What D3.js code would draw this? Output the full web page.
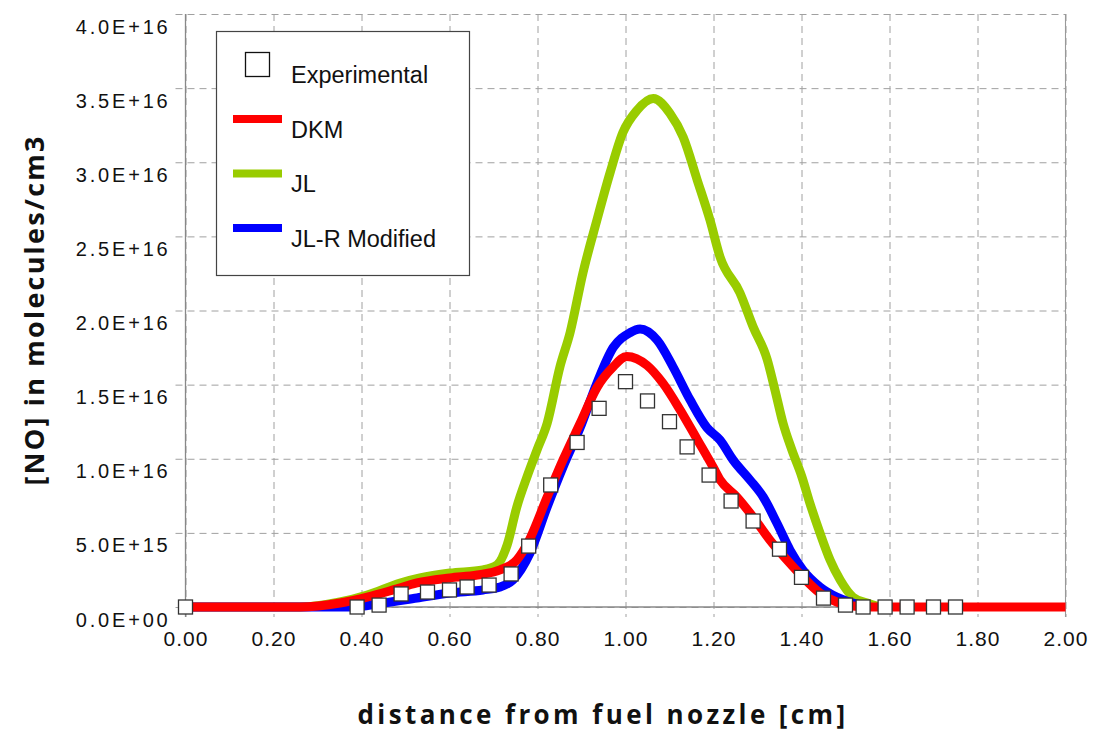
<!DOCTYPE html>
<html>
<head>
<meta charset="utf-8">
<script src="https://cdn.jsdelivr.net/npm/d3@7"></script>
<style>
  body { margin: 0; background: #fff; }
  svg { display: block; }
</style>
</head>
<body>
<div id="chart"></div>
<script>
// x in cm, y in molecules/cm3
var xTickLabels = ["0.00", "0.20", "0.40", "0.60", "0.80", "1.00", "1.20", "1.40", "1.60", "1.80", "2.00"];
var yTickLabels = ["0.0E+00", "5.0E+15", "1.0E+16", "1.5E+16", "2.0E+16", "2.5E+16", "3.0E+16", "3.5E+16", "4.0E+16"];

var expX = [0.00, 0.39, 0.44, 0.49, 0.55, 0.60, 0.64, 0.69, 0.74, 0.78, 0.83, 0.89, 0.94, 1.00, 1.05, 1.10, 1.14, 1.19, 1.24, 1.29, 1.35, 1.40, 1.45, 1.50, 1.54, 1.59, 1.64, 1.70, 1.75];
var expY = [0, 0, 0.13e15, 0.88e15, 1.01e15, 1.15e15, 1.35e15, 1.48e15, 2.23e15, 4.11e15, 8.23e15, 11.1e15, 13.4e15, 15.2e15, 13.9e15, 12.5e15, 10.8e15, 8.9e15, 7.15e15, 5.8e15, 3.9e15, 2.0e15, 0.6e15, 0.13e15, 0, 0, 0, 0, 0];

var dkmX = [0, 0.26, 0.351, 0.413, 0.472, 0.526, 0.601, 0.663, 0.715, 0.753, 0.778, 0.822, 0.858, 0.897, 0.935, 0.972, 1.003, 1.049, 1.085, 1.124, 1.163, 1.199, 1.215, 1.253, 1.290, 1.328, 1.367, 1.403, 1.442, 1.480, 1.517, 1.555, 2.0];
var dkmY = [0, 0, 0.27e15, 0.67e15, 1.15e15, 1.62e15, 1.96e15, 2.16e15, 2.50e15, 3.17e15, 4.32e15, 7.42e15, 9.92e15, 12.4e15, 14.8e15, 16.2e15, 16.9e15, 16.3e15, 15.1e15, 13.3e15, 11.3e15, 9.44e15, 8.57e15, 7.42e15, 6.07e15, 4.52e15, 3.17e15, 2.02e15, 0.94e15, 0.34e15, 0.07e15, 0, 0];

var jlX = [0, 0.26, 0.351, 0.413, 0.488, 0.533, 0.601, 0.676, 0.708, 0.731, 0.753, 0.776, 0.799, 0.822, 0.851, 0.874, 0.903, 0.935, 0.965, 0.994, 1.026, 1.063, 1.101, 1.131, 1.163, 1.192, 1.215, 1.260, 1.290, 1.322, 1.340, 1.358, 1.378, 1.401, 1.419, 1.442, 1.465, 1.488, 1.517, 1.549, 1.578];
var jlY = [0, 0, 0.34e15, 0.81e15, 1.62e15, 1.96e15, 2.29e15, 2.50e15, 2.83e15, 4.18e15, 6.75e15, 8.77e15, 10.6e15, 12.4e15, 16.2e15, 18.5e15, 22.5e15, 26.1e15, 29.3e15, 32.0e15, 33.5e15, 34.3e15, 33.3e15, 31.7e15, 28.8e15, 26.1e15, 23.6e15, 21.2e15, 18.9e15, 16.7e15, 14.6e15, 12.4e15, 10.6e15, 8.77e15, 7.01e15, 4.99e15, 3.17e15, 1.82e15, 0.67e15, 0.27e15, 0];

var jlrX = [0, 0.26, 0.374, 0.449, 0.526, 0.601, 0.676, 0.715, 0.744, 0.783, 0.822, 0.858, 0.897, 0.935, 0.972, 1.010, 1.033, 1.072, 1.108, 1.147, 1.185, 1.215, 1.245, 1.283, 1.313, 1.344, 1.374, 1.403, 1.442, 1.480, 1.517, 1.555];
var jlrY = [0, 0, 0, 0.27e15, 0.61e15, 0.94e15, 1.15e15, 1.35e15, 1.82e15, 3.64e15, 6.75e15, 9.44e15, 12.1e15, 15.1e15, 17.5e15, 18.5e15, 18.75e15, 18.0e15, 16.2e15, 13.96e15, 12.1e15, 11.26e15, 9.9e15, 8.57e15, 7.42e15, 5.67e15, 3.84e15, 2.50e15, 1.35e15, 0.67e15, 0.27e15, 0];

var seriesNames = ["Experimental", "DKM", "JL", "JL-R Modified"];
var seriesColors = ["#ffffff", "#ff0000", "#99cc00", "#0000ff"];

var W = 1103, H = 734;
var x = d3.scaleLinear().domain([0, 2]).range([185.5, 1065.5]);
var y = d3.scaleLinear().domain([0, 4e16]).range([607, 14]);

var svg = d3.select("#chart").append("svg")
    .attr("width", W)
    .attr("height", H)
    .style("font-family", "'Liberation Sans', Arial, sans-serif");

function zip(xs, ys) {
    return xs.map(function(v, i){ return [v, ys[i]]; });
}

// grid
var yTickVals = yTickLabels.map(function(d){ return +d; });
var xTickVals = xTickLabels.map(function(d){ return +d; });

var yAxis = svg.append("g")
    .attr("transform", "translate(" + x(0) + ",0)")
    .call(d3.axisLeft(y)
        .tickValues(yTickVals)
        .tickSize(-(x(2) - x(0)) - 10)
        .tickSizeOuter(0)
        .tickFormat(function(d, i){ return yTickLabels[i]; }));
yAxis.select(".domain").remove();
yAxis.selectAll(".tick line")
    .attr("x1", -10)
    .attr("x2", x(2) - x(0))
    .attr("stroke", "#a0a0a0")
    .attr("stroke-dasharray", "7,5");
yAxis.selectAll(".tick text")
    .attr("x", -15)
    .attr("dy", "0.95em")
    .attr("fill", "#111")
    .style("font-size", "20px")
    .style("letter-spacing", "2.8px");

var xAxis = svg.append("g")
    .attr("transform", "translate(0," + y(0) + ")")
    .call(d3.axisBottom(x)
        .tickValues(xTickVals)
        .tickSize(10)
        .tickSizeOuter(0)
        .tickFormat(function(d, i){ return xTickLabels[i]; }));
xAxis.select(".domain").remove();
xAxis.selectAll(".tick line")
    .attr("y1", y(4e16) - y(0))
    .attr("y2", 10)
    .attr("stroke", "#a0a0a0")
    .attr("stroke-dasharray", "7,5");
xAxis.selectAll(".tick text")
    .attr("y", 39)
    .attr("dy", 0)
    .attr("fill", "#111")
    .style("font-size", "21px")
    .style("letter-spacing", "1px");

// axis lines
svg.append("line")
    .attr("x1", x(0)).attr("x2", x(0))
    .attr("y1", y(4e16)).attr("y2", y(0) + 10)
    .attr("stroke", "#888").attr("stroke-width", 1.3);
svg.append("line")
    .attr("x1", x(2)).attr("x2", x(2))
    .attr("y1", y(4e16)).attr("y2", y(0) + 10)
    .attr("stroke", "#999").attr("stroke-width", 1.1);
svg.append("line")
    .attr("x1", x(0)).attr("x2", x(2))
    .attr("y1", y(0)).attr("y2", y(0))
    .attr("stroke", "#888").attr("stroke-width", 1.3);

// curves
var line = d3.line()
    .x(function(d){ return x(d[0]); })
    .y(function(d){ return y(d[1]); })
    .curve(d3.curveMonotoneX);

var curves = [
    {data: zip(jlX, jlY), color: seriesColors[2]},
    {data: zip(jlrX, jlrY), color: seriesColors[3]},
    {data: zip(dkmX, dkmY), color: seriesColors[1]}
];
svg.append("g").selectAll("path")
    .data(curves)
    .enter()
    .append("path")
      .attr("d", function(d){ return line(d.data); })
      .attr("fill", "none")
      .attr("stroke", function(d){ return d.color; })
      .attr("stroke-width", 9)
      .attr("stroke-linejoin", "round");

// experimental markers
svg.append("g").selectAll("rect")
    .data(zip(expX, expY))
    .enter()
    .append("rect")
      .attr("x", function(d){ return x(d[0]) - 7; })
      .attr("y", function(d){ return y(d[1]) - 7; })
      .attr("width", 14)
      .attr("height", 14)
      .attr("fill", "#fff")
      .attr("stroke", "#333")
      .attr("stroke-width", 1.3);

// legend
var legend = svg.append("g");
legend.append("rect")
    .attr("x", 216.5).attr("y", 31.5)
    .attr("width", 253).attr("height", 244)
    .attr("fill", "#fff")
    .attr("stroke", "#444")
    .attr("stroke-width", 1.2);

var legendItems = legend.selectAll("g.item")
    .data(seriesNames)
    .enter()
    .append("g")
      .attr("class", "item")
      .attr("transform", function(d, i){ return "translate(0," + (i * 54.5) + ")"; });
legendItems.filter(function(d, i){ return i == 0; })
    .append("rect")
      .attr("x", 245.5).attr("y", 52.5)
      .attr("width", 24).attr("height", 24)
      .attr("fill", "#fff")
      .attr("stroke", "#111")
      .attr("stroke-width", 1.3);
legendItems.filter(function(d, i){ return i > 0; })
    .append("line")
      .attr("x1", 233).attr("x2", 282)
      .attr("y1", 64.5).attr("y2", 64.5)
      .attr("stroke", function(d, i){ return seriesColors[i + 1]; })
      .attr("stroke-width", 8);
legendItems.append("text")
    .attr("x", 291)
    .attr("y", 83)
    .attr("fill", "#111")
    .style("font-size", "23.5px")
    .text(function(d){ return d; });

// axis titles
svg.append("text")
    .attr("x", 603)
    .attr("y", 724)
    .attr("text-anchor", "middle")
    .attr("fill", "#111")
    .style("font-family", "'Open Sans', 'Liberation Sans', sans-serif")
    .style("font-weight", "bold")
    .style("font-size", "26px")
    .style("letter-spacing", "3.4px")
    .text("distance from fuel nozzle [cm]");

svg.append("text")
    .attr("transform", "translate(44,310) rotate(-90)")
    .attr("text-anchor", "middle")
    .attr("fill", "#111")
    .style("font-family", "'Open Sans', 'Liberation Sans', sans-serif")
    .style("font-weight", "bold")
    .style("font-size", "27px")
    .style("letter-spacing", "2.2px")
    .text("[NO] in molecules/cm3");
</script>
</body>
</html>
